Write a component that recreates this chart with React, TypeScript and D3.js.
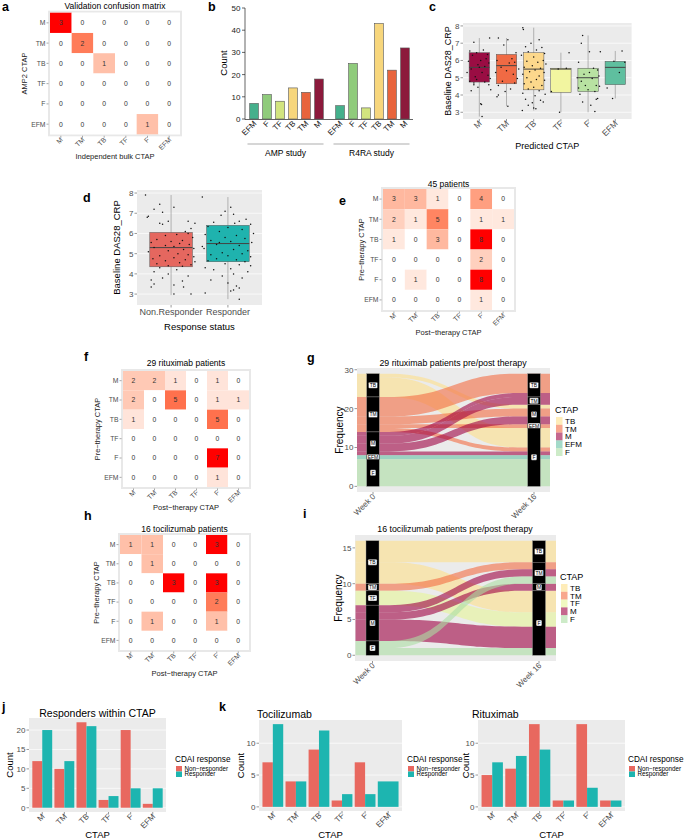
import React, { useEffect, useRef } from "react";
import * as d3 from "d3";

const FONT = "'Liberation Sans', Arial, Helvetica, sans-serif";
const GREY = "#4d4d4d";
const CTAP = ["M", "TM", "TB", "TF", "F", "EFM"];

// a - validation confusion matrix (rows AMP2, cols bulk)
const validationMatrix = [
  [3, 0, 0, 0, 0, 0],
  [0, 2, 0, 0, 0, 0],
  [0, 0, 1, 0, 0, 0],
  [0, 0, 0, 0, 0, 0],
  [0, 0, 0, 0, 0, 0],
  [0, 0, 0, 0, 1, 0],
];

// b - counts per study
const studyCtap = ["EFM", "F", "TF", "TB", "TM", "M"];
const ampCounts = [7, 11, 8, 14, 12, 18];
const r4raCounts = [6, 25, 5, 43, 22, 32];
const studyColors = ["#45b08c", "#8fcb7b", "#d2e47f", "#f7d67c", "#e8643c", "#8c1a3c"];

// c - baseline DAS28 by predicted CTAP: [lowWhisker, q1, median, q3, highWhisker]
const cStats = [
  [2.75, 4.75, 5.6, 6.45, 7.3],
  [3.35, 4.65, 5.7, 6.35, 7.3],
  [3.1, 4.3, 5.5, 6.45, 7.9],
  [3.0, 4.15, 5.5, 5.55, 6.45],
  [3.0, 4.2, 5.0, 5.55, 7.45],
  [3.8, 4.6, 5.6, 5.95, 6.55],
];
const cColors = ["#9a0d43", "#f06a44", "#fcd88c", "#f2f5a0", "#b8e2a2", "#5fbf9f"];
// jittered points: [offset within band, value]
const cPointsM = [[0.38,7.3],[-0.2,7.05],[-0.35,6.55],[0.15,6.6],[-0.1,6.45],[0.3,6.35],[-0.25,6.3],[0.25,6.1],[0.05,6.0],[-0.4,5.95],[0.35,5.85],[-0.05,5.75],[0.2,5.65],[0.0,5.6],[-0.3,5.5],[-0.45,5.3],[0.1,5.3],[0.32,5.15],[-0.15,5.05],[0.4,4.95],[-0.1,4.9],[-0.35,4.8],[0.2,4.75],[-0.2,4.7],[0.35,4.6],[-0.05,4.45],[0.42,4.3],[-0.3,4.25],[0.05,3.5],[0.08,3.45],[0.1,2.75],[-0.2,4.6]];
const cPointsTM = [[-0.3,7.3],[0.05,7.2],[-0.1,6.9],[0.35,6.45],[0.2,6.1],[-0.35,6.0],[0.3,5.9],[0.1,5.85],[-0.2,5.6],[0.45,5.5],[0.0,5.4],[-0.4,5.3],[0.25,5.2],[0.4,4.95],[-0.15,4.8],[0.3,4.7],[-0.3,4.55],[0.15,4.35],[-0.3,4.0],[-0.35,3.9],[0.05,3.35],[-0.05,4.2]];
const cPointsTB = [[-0.4,7.9],[-0.38,7.8],[-0.1,7.0],[0.2,7.2],[-0.3,6.8],[0.3,6.75],[0.1,6.6],[-0.2,6.5],[0.4,6.4],[-0.45,6.3],[0.0,6.2],[0.35,6.0],[-0.25,5.95],[0.15,5.9],[0.45,5.8],[-0.05,5.7],[-0.35,5.6],[0.25,5.55],[0.05,5.45],[-0.15,5.35],[0.38,5.3],[-0.4,5.2],[0.2,5.1],[-0.25,5.0],[0.1,4.9],[0.4,4.85],[-0.1,4.75],[-0.35,4.65],[0.3,4.55],[0.0,4.45],[-0.2,4.35],[0.2,4.25],[-0.4,4.1],[0.42,4.05],[0.05,3.95],[-0.3,3.75],[0.25,3.7],[-0.05,3.55],[0.35,3.6],[-0.2,3.4],[0.0,3.25],[-0.42,3.1],[0.08,3.2]];
const cPointsTF = [[0.3,6.45],[-0.1,5.5],[0.2,5.55],[-0.35,4.2],[-0.05,3.0]];
const cPointsF = [[-0.2,7.45],[-0.25,7.0],[0.05,6.5],[0.45,6.5],[-0.35,5.9],[0.2,5.55],[0.35,5.45],[0.05,5.3],[-0.15,5.2],[0.4,5.1],[-0.4,5.0],[0.15,4.95],[-0.25,4.8],[0.3,4.55],[-0.1,4.55],[0.42,4.5],[-0.35,4.4],[0.0,4.3],[0.25,4.2],[-0.3,4.05],[0.35,3.8],[0.3,3.75],[-0.2,3.6],[0.1,3.4],[0.25,3.05]];
const cPointsEFM = [[0.25,6.55],[-0.05,5.95],[0.15,5.3],[-0.3,4.4],[-0.1,3.8],[0.35,5.9]];

// d - baseline DAS28 by response status
const dGroups = ["Non.Responder", "Responder"];
const dStats = [
  [2.95, 4.35, 5.3, 6.05, 7.9],
  [2.75, 4.6, 5.5, 6.4, 7.8],
];
const dColors = ["#e5675f", "#1fb3ae"];
const dPointsNon = [[-0.45,7.9],[-0.2,7.45],[0.05,7.3],[-0.3,7.2],[-0.15,7.05],[-0.4,6.85],[-0.42,6.8],[-0.05,6.6],[-0.2,6.5],[-0.15,6.45],[0.3,6.6],[0.42,6.5],[0.35,6.25],[0.25,6.1],[0.3,6.0],[0.1,5.95],[-0.1,5.9],[0.38,5.8],[-0.25,5.7],[0.2,5.65],[0.0,5.6],[-0.35,5.55],[0.15,5.5],[0.32,5.45],[-0.1,5.4],[0.05,5.35],[-0.3,5.3],[0.4,5.25],[0.22,5.2],[-0.05,5.15],[-0.4,5.1],[0.12,5.0],[0.3,4.95],[-0.2,4.9],[0.4,4.85],[0.05,4.8],[-0.32,4.75],[0.25,4.7],[-0.1,4.65],[0.42,4.6],[0.15,4.55],[-0.25,4.5],[0.35,4.45],[-0.05,4.4],[0.2,4.38],[-0.2,4.3],[0.1,4.2],[-0.3,4.1],[-0.05,4.0],[0.3,3.9],[-0.15,3.8],[-0.35,3.7],[0.2,3.65],[-0.3,3.5],[0.05,3.45],[-0.35,3.35],[0.22,3.35],[0.05,3.0],[0.35,3.0]];
const dPointsResp = [[-0.45,7.8],[0.05,7.3],[-0.05,7.1],[0.1,6.95],[-0.12,6.9],[0.32,6.7],[0.2,6.6],[-0.25,6.55],[0.12,6.5],[0.4,6.45],[-0.35,6.35],[0.0,6.3],[0.25,6.2],[-0.15,6.1],[0.45,6.0],[-0.4,5.95],[0.15,5.9],[-0.05,5.8],[0.3,5.75],[-0.3,5.65],[0.05,5.6],[0.42,5.55],[-0.2,5.45],[0.2,5.4],[-0.45,5.35],[-0.42,5.25],[0.1,5.2],[0.35,5.15],[-0.1,5.05],[0.25,5.0],[-0.3,4.95],[0.0,4.9],[0.4,4.85],[-0.2,4.75],[0.15,4.7],[-0.35,4.65],[0.3,4.6],[-0.05,4.5],[0.2,4.45],[-0.4,4.3],[0.05,4.25],[0.35,4.1],[-0.25,4.2],[0.1,4.0],[-0.1,3.9],[0.25,3.8],[-0.3,3.7],[0.0,3.55],[0.15,3.4],[0.1,3.2],[0.05,3.15],[0.2,3.3],[-0.4,3.05],[0.2,2.75],[0.4,4.4],[-0.15,5.55]];

// e, f, h - pre (rows) vs post (cols) therapy CTAP
const allPatients = [
  [3, 3, 1, 0, 4, 0],
  [2, 1, 5, 0, 1, 1],
  [1, 0, 3, 0, 8, 0],
  [0, 0, 0, 0, 2, 0],
  [0, 1, 0, 0, 8, 0],
  [0, 0, 0, 0, 1, 0],
];
const rituximab = [
  [2, 2, 1, 0, 1, 0],
  [2, 0, 5, 0, 1, 1],
  [1, 0, 0, 0, 5, 0],
  [0, 0, 0, 0, 0, 0],
  [0, 0, 0, 0, 7, 0],
  [0, 0, 0, 0, 1, 0],
];
const tocilizumab = [
  [1, 1, 0, 0, 3, 0],
  [0, 1, 0, 0, 0, 0],
  [0, 0, 3, 0, 3, 0],
  [0, 0, 0, 0, 2, 0],
  [0, 1, 0, 0, 1, 0],
  [0, 0, 0, 0, 0, 0],
];

// g, i - alluvial stacking order and colours
const stackOrder = ["TB", "TM", "TF", "M", "EFM", "F"];
const flowColors: Record<string, string> = {
  TB: "#fee08b", TM: "#f46d43", TF: "#e6f598", M: "#9e0142", EFM: "#66c2a5", F: "#abdda4",
};
const weeks = ["Week 0", "Week 16"];

// j, k - CDAI response counts
const allNon = [12, 10, 22, 2, 20, 1];
const allResp = [20, 12, 21, 3, 5, 5];
const tociNon = [7, 4, 9, 1, 7, null];
const tociResp = [13, 4, 12, 2, 2, 4];
const ritNon = [5, 6, 13, 1, 13, 1];
const ritResp = [7, 8, 9, 1, 3, 1];
const respColors = ["#e8685f", "#1db5b0"];
const respLabels = ["Non\u2212responder", "Responder"];

type Sel = d3.Selection<any, unknown, null, undefined>;

const text = (g: Sel, x: number, y: number, s: string, size: number, o: any = {}) =>
  g.append("text")
    .attr("x", x).attr("y", y)
    .attr("font-size", size)
    .attr("fill", o.fill || "#000")
    .attr("text-anchor", o.anchor || "start")
    .attr("font-weight", o.weight || "normal")
    .text(s);

const rtext = (g: Sel, x: number, y: number, s: string, size: number, rot: number, o: any = {}) =>
  g.append("text")
    .attr("transform", `translate(${x},${y}) rotate(${rot})`)
    .attr("font-size", size)
    .attr("fill", o.fill || "#000")
    .attr("text-anchor", o.anchor || "middle")
    .text(s);

const letter = (g: Sel, x: number, y: number, s: string) => text(g, x, y, s, 12.5, { weight: "bold" });

function heatmap(svg: Sel, m: number[][], box: any) {
  const g = svg.append("g");
  const x = d3.scaleBand().domain(CTAP).range([box.l, box.r]);
  const y = d3.scaleBand().domain(CTAP).range([box.t, box.b]);
  const max = d3.max(m.flat()) as number;
  const color = d3.scaleLinear<string>().domain([0, max]).range(["#ffffff", "#ff0000"]).interpolate(d3.interpolateLab);
  g.append("rect").attr("x", box.l - 1).attr("y", box.t - 1)
    .attr("width", box.r - box.l + 2).attr("height", box.b - box.t + 2)
    .attr("fill", "#fff").attr("stroke", "#e8e8e8").attr("stroke-width", 2);
  CTAP.forEach((row, i) => {
    CTAP.forEach((col, j) => {
      const v = m[i][j];
      g.append("rect").attr("x", x(col)!).attr("y", y(row)!)
        .attr("width", x.bandwidth()).attr("height", y.bandwidth())
        .attr("fill", color(v));
      text(g, x(col)! + x.bandwidth() / 2, y(row)! + y.bandwidth() / 2 + 2.4, String(v), 6.8, { anchor: "middle", fill: "#333" });
    });
  });
  CTAP.forEach((c) => {
    const cy = y(c)! + y.bandwidth() / 2;
    g.append("line").attr("x1", box.l - 3.5).attr("x2", box.l - 1.5).attr("y1", cy).attr("y2", cy).attr("stroke", "#555").attr("stroke-width", 0.5);
    text(g, box.l - 4.5, cy + 2.4, c, 6.8, { anchor: "end", fill: GREY });
    const cx = x(c)! + x.bandwidth() / 2;
    g.append("line").attr("x1", cx).attr("x2", cx).attr("y1", box.b + 1.5).attr("y2", box.b + 3.5).attr("stroke", "#555").attr("stroke-width", 0.5);
    rtext(g, cx + 2.5, box.b + 6, c, 6.8, -45, { anchor: "end", fill: GREY });
  });
  text(g, (box.l + box.r) / 2, box.titleY, box.title, 8.5, { anchor: "middle" });
  text(g, (box.l + box.r) / 2, box.xTitleY, box.xTitle, 7.5, { anchor: "middle", fill: "#222" });
  rtext(g, box.yTitleX, (box.t + box.b) / 2, box.yTitle, 7.5, -90, { fill: "#222" });
}

function boxPanel(svg: Sel, cfg: any) {
  const g = svg.append("g");
  const x = d3.scaleBand().domain(cfg.cats).range([cfg.l, cfg.r]).paddingOuter(0.1).paddingInner(0);
  const step = (cfg.r - cfg.l) / (cfg.cats.length + 0.2);
  const cx = (i: number) => cfg.l + (0.6 + i) * step;
  const y = d3.scaleLinear().domain(cfg.yDomain).range([cfg.b, cfg.t]);
  g.append("rect").attr("x", cfg.l).attr("y", cfg.t).attr("width", cfg.r - cfg.l).attr("height", cfg.b - cfg.t).attr("fill", "#ebebeb");
  cfg.ticks.forEach((t: number) => {
    g.append("line").attr("x1", cfg.l).attr("x2", cfg.r).attr("y1", y(t)).attr("y2", y(t)).attr("stroke", "#fff").attr("stroke-width", 0.7);
    g.append("line").attr("x1", cfg.l - 2.5).attr("x2", cfg.l).attr("y1", y(t)).attr("y2", y(t)).attr("stroke", "#333").attr("stroke-width", 0.5);
    text(g, cfg.l - 3.5, y(t) + 3, String(t), cfg.tickSize, { anchor: "end", fill: GREY });
  });
  const bw = step * 0.75;
  cfg.cats.forEach((c: string, i: number) => {
    const [lo, q1, med, q3, hi] = cfg.stats[i];
    const xc = cx(i);
    g.append("line").attr("x1", xc).attr("x2", xc).attr("y1", y(hi)).attr("y2", y(lo)).attr("stroke", "#8a8a8a").attr("stroke-width", 0.6);
    g.append("rect").attr("x", xc - bw / 2).attr("y", y(q3)).attr("width", bw).attr("height", y(q1) - y(q3))
      .attr("fill", cfg.colors[i]).attr("stroke", "#555").attr("stroke-width", 0.5);
    g.append("line").attr("x1", xc - bw / 2).attr("x2", xc + bw / 2).attr("y1", y(med)).attr("y2", y(med)).attr("stroke", "#444").attr("stroke-width", 1);
    cfg.points[i].forEach((p: number[]) => {
      g.append("circle").attr("cx", xc + p[0] * step).attr("cy", y(p[1])).attr("r", 0.75).attr("fill", "#111");
    });
    g.append("line").attr("x1", xc).attr("x2", xc).attr("y1", cfg.b).attr("y2", cfg.b + 2.5).attr("stroke", "#333").attr("stroke-width", 0.5);
    if (cfg.rotate) rtext(g, xc + 3, cfg.b + 5, c, cfg.xLabSize, -45, { anchor: "end", fill: GREY });
    else text(g, xc, cfg.b + 10, c, cfg.xLabSize, { anchor: "middle", fill: GREY });
  });
  text(g, (cfg.l + cfg.r) / 2, cfg.xTitleY, cfg.xTitle, cfg.titleSize, { anchor: "middle" });
  rtext(g, cfg.yTitleX, (cfg.t + cfg.b) / 2, cfg.yTitle, cfg.titleSize, -90);
  void x;
}

function alluvial(svg: Sel, m: number[][], cfg: any) {
  const g = svg.append("g");
  const idx = (c: string) => CTAP.indexOf(c);
  const n = d3.sum(m.flat());
  const y = d3.scaleLinear().domain([-0.05 * n, n * 1.05]).range([cfg.b, cfg.t]);
  g.append("rect").attr("x", cfg.l).attr("y", cfg.t).attr("width", cfg.r - cfg.l).attr("height", cfg.b - cfg.t).attr("fill", "#ebebeb");

  const pre: Record<string, any> = {};
  const post: Record<string, any> = {};
  let top = n;
  stackOrder.forEach((c) => { const s = d3.sum(m[idx(c)]); pre[c] = { top, bottom: top - s, size: s }; top -= s; });
  top = n;
  stackOrder.forEach((c) => { const s = d3.sum(m, (r) => r[idx(c)]); post[c] = { top, bottom: top - s, size: s }; top -= s; });

  const flows: any[] = [];
  stackOrder.forEach((a) => {
    let cur = pre[a].top;
    stackOrder.forEach((b) => {
      const v = m[idx(a)][idx(b)];
      if (v > 0) { flows.push({ from: a, to: b, v, y0: cur }); cur -= v; }
    });
  });
  stackOrder.forEach((b) => {
    let cur = post[b].top;
    stackOrder.forEach((a) => {
      const f = flows.find((f) => f.from === a && f.to === b);
      if (f) { f.y1 = cur; cur -= f.v; }
    });
  });

  const x0 = cfg.x0, x1 = cfg.x1, hw = cfg.hw, xm = (x0 + x1) / 2;
  flows.forEach((f) => {
    const a = y(f.y0), b = y(f.y0 - f.v), c = y(f.y1), d = y(f.y1 - f.v);
    const p = d3.path();
    p.moveTo(x0 - hw, a);
    p.lineTo(x0 + hw, a);
    p.bezierCurveTo(xm, a, xm, c, x1 - hw, c);
    p.lineTo(x1 + hw, c);
    p.lineTo(x1 + hw, d);
    p.lineTo(x1 - hw, d);
    p.bezierCurveTo(xm, d, xm, b, x0 + hw, b);
    p.lineTo(x0 - hw, b);
    p.closePath();
    g.append("path").attr("d", p.toString()).attr("fill", flowColors[f.from]).attr("fill-opacity", 0.6);
  });

  [[x0, pre], [x1, post]].forEach(([xc, st]: any) => {
    stackOrder.forEach((c) => {
      const s = st[c];
      if (s.size === 0) return;
      g.append("rect").attr("x", xc - cfg.sw).attr("y", y(s.top)).attr("width", cfg.sw * 2).attr("height", y(s.bottom) - y(s.top))
        .attr("fill", "#000").attr("stroke", "#9a9a9a").attr("stroke-width", 0.4);
      const ym = y((s.top + s.bottom) / 2);
      const w = c.length * 3.3 + 2.5;
      g.append("rect").attr("x", xc - w / 2).attr("y", ym - 3).attr("width", w).attr("height", 6).attr("rx", 1)
        .attr("fill", "#fff").attr("stroke", "#000").attr("stroke-width", 0.4);
      text(g, xc, ym + 1.8, c, 5, { anchor: "middle" });
    });
  });

  cfg.ticks.forEach((t: number) => {
    g.append("line").attr("x1", cfg.l - 2.5).attr("x2", cfg.l).attr("y1", y(t)).attr("y2", y(t)).attr("stroke", "#333").attr("stroke-width", 0.5);
    text(g, cfg.l - 3.5, y(t) + 3, String(t), 8, { anchor: "end", fill: GREY });
  });
  [x0, x1].forEach((xc, i) => {
    g.append("line").attr("x1", xc).attr("x2", xc).attr("y1", cfg.b).attr("y2", cfg.b + 2.5).attr("stroke", "#333").attr("stroke-width", 0.5);
    rtext(g, xc + 3, cfg.b + 5, weeks[i], 8, -45, { anchor: "end", fill: GREY });
  });
  text(g, cfg.titleX, cfg.titleY, cfg.title, 8.8, { anchor: "middle" });
  rtext(g, cfg.yTitleX, (cfg.t + cfg.b) / 2, "Frequency", 10, -90);

  const present = stackOrder.filter((c) => pre[c].size > 0 || post[c].size > 0);
  text(g, cfg.legX, cfg.legY, "CTAP", 9);
  present.forEach((c, i) => {
    const ky = cfg.legY + 4 + i * 7.8;
    g.append("rect").attr("x", cfg.legX + 1).attr("y", ky).attr("width", 6.5).attr("height", 7.8)
      .attr("fill", flowColors[c]).attr("fill-opacity", 0.6);
    text(g, cfg.legX + 10, ky + 6.8, c, 8);
  });
}

function dodgeBars(svg: Sel, cfg: any) {
  const g = svg.append("g");
  const step = (cfg.r - cfg.l) / (CTAP.length + 0.2);
  const cx = (i: number) => cfg.l + (0.6 + i) * step;
  const y = d3.scaleLinear().domain([-0.05 * cfg.max, cfg.max * 1.05]).range([cfg.b, cfg.t]);
  g.append("rect").attr("x", cfg.l).attr("y", cfg.t).attr("width", cfg.r - cfg.l).attr("height", cfg.b - cfg.t).attr("fill", "#ebebeb");
  cfg.ticks.forEach((t: number) => {
    g.append("line").attr("x1", cfg.l).attr("x2", cfg.r).attr("y1", y(t)).attr("y2", y(t)).attr("stroke", "#fff").attr("stroke-width", 0.7);
    g.append("line").attr("x1", cfg.l - 2.5).attr("x2", cfg.l).attr("y1", y(t)).attr("y2", y(t)).attr("stroke", "#333").attr("stroke-width", 0.5);
    text(g, cfg.l - 3.5, y(t) + 3, String(t), 8, { anchor: "end", fill: GREY });
  });
  const full = step * 0.9;
  CTAP.forEach((c, i) => {
    const vals = [cfg.non[i], cfg.resp[i]];
    const present = vals.map((v, k) => ({ v, k })).filter((d) => d.v !== null);
    const w = full / present.length;
    present.forEach((d, j) => {
      const xl = cx(i) - full / 2 + j * w;
      g.append("rect").attr("x", xl).attr("y", y(d.v)).attr("width", w).attr("height", y(0) - y(d.v)).attr("fill", respColors[d.k]);
    });
    g.append("line").attr("x1", cx(i)).attr("x2", cx(i)).attr("y1", cfg.b).attr("y2", cfg.b + 2.5).attr("stroke", "#333").attr("stroke-width", 0.5);
    rtext(g, cx(i) + 3, cfg.b + 5, c, 8, -45, { anchor: "end", fill: GREY });
  });
  text(g, cfg.titleX, cfg.titleY, cfg.title, 10.5, { anchor: cfg.titleAnchor });
  text(g, (cfg.l + cfg.r) / 2, 838, "CTAP", 9.5, { anchor: "middle" });
  rtext(g, cfg.yTitleX, (cfg.t + cfg.b) / 2, "Count", 9.5, -90);
  text(g, cfg.legX, 762, "CDAI response", 8.2);
  respLabels.forEach((s, k) => {
    g.append("rect").attr("x", cfg.legX + 1).attr("y", 766 + k * 5.5).attr("width", 6).attr("height", 5.5).attr("fill", respColors[k]);
    text(g, cfg.legX + 9.5, 770.5 + k * 5.5, s, 6.3);
  });
}

export default function App() {
  const svgRef = useRef<SVGSVGElement>(null);

  useEffect(() => {
    const svg: Sel = d3.select(svgRef.current);
    svg.selectAll("*").remove();
    svg.append("rect").attr("width", 685).attr("height", 840).attr("fill", "#fff");

    // a
    letter(svg, 2, 11, "a");
    heatmap(svg, validationMatrix, {
      l: 50, r: 180, t: 12.7, b: 134.3, title: "Validation confusion matrix", titleY: 8.5,
      xTitle: "Independent bulk CTAP", xTitleY: 158.5, yTitle: "AMP2 CTAP", yTitleX: 27,
    });

    // b
    letter(svg, 208, 11, "b");
    const gb = svg.append("g");
    const yb = d3.scaleLinear().domain([0, 50]).range([119, 8]);
    d3.range(0, 51, 10).forEach((t) => {
      gb.append("line").attr("x1", 242).attr("x2", 245).attr("y1", yb(t)).attr("y2", yb(t)).attr("stroke", "#222").attr("stroke-width", 0.7);
      text(gb, 240.5, yb(t) + 3, String(t), 8, { anchor: "end", fill: "#222" });
    });
    gb.append("line").attr("x1", 245).attr("x2", 245).attr("y1", yb(50)).attr("y2", 119.5).attr("stroke", "#222").attr("stroke-width", 0.7);
    gb.append("line").attr("x1", 245).attr("x2", 413).attr("y1", 119.5).attr("y2", 119.5).attr("stroke", "#222").attr("stroke-width", 0.7);
    [[ampCounts, 247.5, "AMP study"], [r4raCounts, 333.5, "R4RA study"]].forEach(([vals, x0, name]: any) => {
      const xs = d3.scaleBand().domain(studyCtap).range([x0, x0 + 78]).paddingInner(0.33).paddingOuter(0.17);
      studyCtap.forEach((c, i) => {
        gb.append("rect").attr("x", xs(c)!).attr("y", yb(vals[i])).attr("width", xs.bandwidth()).attr("height", yb(0) - yb(vals[i]))
          .attr("fill", studyColors[i]).attr("stroke", "#555").attr("stroke-width", 0.6);
        rtext(gb, xs(c)! + xs.bandwidth() / 2 + 3, 124, c, 8, -45, { anchor: "end", fill: "#222" });
      });
      gb.append("line").attr("x1", x0).attr("x2", x0 + 76).attr("y1", 144).attr("y2", 144).attr("stroke", "#c8c8c8").attr("stroke-width", 1.3);
      text(gb, x0 + 38, 156, name, 8.5, { anchor: "middle" });
    });
    rtext(gb, 227, 63, "Count", 9.5, -90);

    // c
    letter(svg, 429, 11, "c");
    boxPanel(svg, {
      l: 463, r: 631.6, t: 23, b: 119, cats: CTAP, stats: cStats, colors: cColors,
      points: [cPointsM, cPointsTM, cPointsTB, cPointsTF, cPointsF, cPointsEFM],
      yDomain: [2.61, 8.17], ticks: [3, 4, 5, 6, 7, 8], tickSize: 8, rotate: true, xLabSize: 8.5,
      xTitle: "Predicted CTAP", xTitleY: 149, yTitle: "Baseline DAS28_CRP", yTitleX: 451, titleSize: 9,
    });

    // d
    letter(svg, 83, 202, "d");
    boxPanel(svg, {
      l: 137, r: 262, t: 190, b: 305, cats: dGroups, stats: dStats, colors: dColors,
      points: [dPointsNon, dPointsResp],
      yDomain: [2.46, 8.15], ticks: [3, 4, 5, 6, 7, 8], tickSize: 8, rotate: false, xLabSize: 9,
      xTitle: "Response status", xTitleY: 330, yTitle: "Baseline DAS28_CRP", yTitleX: 120, titleSize: 9.5,
    });

    // e
    letter(svg, 339, 205, "e");
    heatmap(svg, allPatients, {
      l: 383, r: 514, t: 189, b: 310, title: "45 patients", titleY: 186.5,
      xTitle: "Post\u2212therapy CTAP", xTitleY: 334.5, yTitle: "Pre\u2212therapy CTAP", yTitleX: 364,
    });

    // f
    letter(svg, 84, 361, "f");
    heatmap(svg, rituximab, {
      l: 123, r: 249, t: 371, b: 487, title: "29 rituximab patients", titleY: 366,
      xTitle: "Post\u2212therapy CTAP", xTitleY: 510, yTitle: "Pre\u2212therapy CTAP", yTitleX: 100,
    });

    // g
    letter(svg, 307, 362, "g");
    alluvial(svg, rituximab, {
      l: 357, r: 550, t: 368, b: 492, x0: 373, x1: 534, hw: 16, sw: 6.3, ticks: [0, 10, 20, 30],
      title: "29 rituximab patients pre/post therapy", titleX: 453, titleY: 366, yTitleX: 343,
      legX: 555, legY: 413,
    });

    // h
    letter(svg, 84, 520, "h");
    heatmap(svg, tocilizumab, {
      l: 120, r: 249, t: 535, b: 650, title: "16 tocilizumab patients", titleY: 532,
      xTitle: "Post\u2212therapy CTAP", xTitleY: 675.5, yTitle: "Pre\u2212therapy CTAP", yTitleX: 99,
    });

    // i
    letter(svg, 303, 518, "i");
    alluvial(svg, tocilizumab, {
      l: 355, r: 556, t: 535, b: 661, x0: 372.5, x1: 539, hw: 17, sw: 6.5, ticks: [0, 5, 10, 15],
      title: "16 tocilizumab patients pre/post therapy", titleX: 455, titleY: 532, yTitleX: 342,
      legX: 560, legY: 580,
    });

    // j
    letter(svg, 2, 711, "j");
    dodgeBars(svg, {
      l: 29, r: 166, t: 718, b: 812, max: 22, ticks: [0, 5, 10, 15, 20], non: allNon, resp: allResp,
      title: "Responders within CTAP", titleX: 97.5, titleY: 717, titleAnchor: "middle", yTitleX: 13, legX: 175,
    });

    // k
    letter(svg, 219, 711, "k");
    dodgeBars(svg, {
      l: 259, r: 402, t: 720, b: 811, max: 13, ticks: [0, 5, 10], non: tociNon, resp: tociResp,
      title: "Tocilizumab", titleX: 257, titleY: 717.5, titleAnchor: "start", yTitleX: 244, legX: 407,
    });
    dodgeBars(svg, {
      l: 478, r: 625, t: 720, b: 811, max: 13, ticks: [0, 5, 10], non: ritNon, resp: ritResp,
      title: "Rituximab", titleX: 472, titleY: 717.5, titleAnchor: "start", yTitleX: 469, legX: 628,
    });
  }, []);

  return (
    <svg
      ref={svgRef}
      width={685}
      height={840}
      style={{ position: "absolute", left: 0, top: 0, fontFamily: FONT }}
    />
  );
}
